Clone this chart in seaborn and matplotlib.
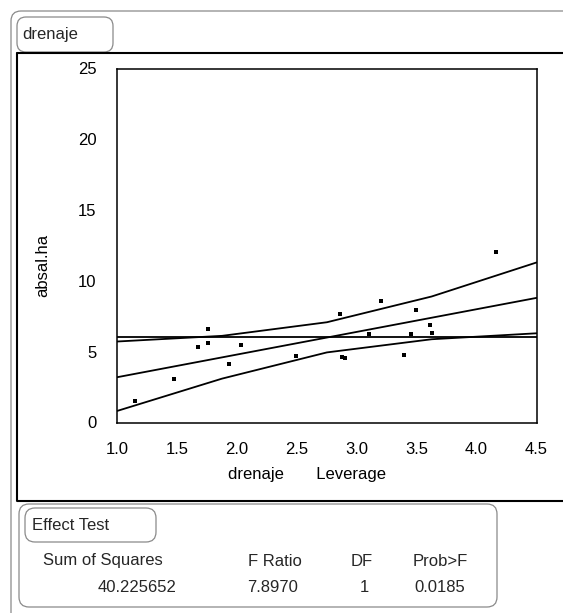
import matplotlib
matplotlib.use("Agg")
import matplotlib.pyplot as plt
from matplotlib.patches import FancyBboxPatch
import seaborn as sns
import pandas as pd

# ---------------- data ----------------
drenaje = [1.15, 1.47, 1.67, 1.76, 1.76, 1.93, 2.03, 2.49, 2.86, 2.88, 2.90,
           3.10, 3.20, 3.39, 3.45, 3.49, 3.61, 3.63, 4.16]
absal_ha = [1.52, 3.08, 5.32, 6.60, 5.61, 4.14, 5.46, 4.67, 7.66, 4.66, 4.54,
            6.22, 8.60, 4.80, 6.22, 7.94, 6.88, 6.34, 12.02]

curve_x = [1.0, 1.875, 2.75, 3.625, 4.5]
fit_y = [3.2, 4.6, 6.0, 7.4, 8.8]
upper_y = [5.72, 6.12, 7.08, 8.9, 11.3]
lower_y = [0.82, 3.1, 4.95, 5.88, 6.3]
mean_x = [1.0, 4.5]
mean_y = [6.07, 6.07]

x_ticks = [1.0, 1.5, 2.0, 2.5, 3.0, 3.5, 4.0, 4.5]
x_tick_labels = ["1.0", "1.5", "2.0", "2.5", "3.0", "3.5", "4.0", "4.5"]
y_ticks = [0, 5, 10, 15, 20, 25]
y_tick_labels = ["0", "5", "10", "15", "20", "25"]

panel_title = "drenaje"
x_label_parts = ["drenaje", "Leverage"]
y_label = "absal.ha"
effect_title = "Effect Test"
table_headers = ["Sum of Squares", "F Ratio", "DF", "Prob>F"]
table_values = ["40.225652", "7.8970", "1", "0.0185"]

# ---------------- styling ----------------
sns.set_theme(style="white")
plt.rcParams["font.family"] = ["Liberation Sans", "DejaVu Sans"]
FS = 12

W, H = 563, 613
fig = plt.figure(figsize=(W / 100, H / 100), dpi=100)
fig.patch.set_facecolor("white")


def fx(x):
    return x / W


def fy(y):
    return 1 - y / H


def rbox(x0, y0, x1, y1, r, color, lw):
    # pixel coordinates (top-left origin) -> inches
    p = FancyBboxPatch((x0 / 100, (H - y1) / 100), (x1 - x0) / 100, (y1 - y0) / 100,
                       boxstyle=f"round,pad=0,rounding_size={r / 100}",
                       transform=fig.dpi_scale_trans, facecolor="none",
                       edgecolor=color, linewidth=lw, zorder=0)
    fig.add_artist(p)


# outer frame and boxes
rbox(11, 11, 640, 700, 10, "#8a8a8a", 0.9)
rbox(17, 17, 113, 52, 9, "#8a8a8a", 0.9)
rbox(17, 53, 640, 501, 0.01, "black", 1.5)
rbox(19, 504, 497, 607, 10, "#8a8a8a", 0.9)
rbox(25, 508, 156, 542, 10, "#8a8a8a", 0.9)

fig.text(fx(22), fy(35), panel_title, fontsize=FS, va="center", ha="left")
fig.text(fx(32), fy(525), effect_title, fontsize=FS, va="center", ha="left")

# table
fig.text(fx(43), fy(561), table_headers[0], fontsize=FS, va="center", ha="left")
fig.text(fx(275), fy(561), table_headers[1], fontsize=FS, va="center", ha="center")
fig.text(fx(362), fy(561), table_headers[2], fontsize=FS, va="center", ha="center")
fig.text(fx(440), fy(561), table_headers[3], fontsize=FS, va="center", ha="center")
fig.text(fx(176), fy(587), table_values[0], fontsize=FS, va="center", ha="right")
fig.text(fx(273), fy(587), table_values[1], fontsize=FS, va="center", ha="center")
fig.text(fx(364), fy(587), table_values[2], fontsize=FS, va="center", ha="center")
fig.text(fx(440), fy(587), table_values[3], fontsize=FS, va="center", ha="center")

# ---------------- the leverage plot ----------------
ax_l, ax_r, ax_t, ax_b = 117.3, 536.5, 68.5, 422.5
ax = fig.add_axes([fx(ax_l), fy(ax_b), (ax_r - ax_l) / W, (ax_b - ax_t) / H])
ax.set_facecolor("white")

pts = pd.DataFrame({"drenaje": drenaje, "absal.ha": absal_ha})
curves = pd.DataFrame({"x": curve_x, "fit": fit_y, "upper": upper_y, "lower": lower_y})
means = pd.DataFrame({"x": mean_x, "y": mean_y})

line_kw = dict(color="black", linewidth=1.3, ax=ax)
sns.lineplot(data=means, x="x", y="y", **line_kw)
sns.lineplot(data=curves, x="x", y="fit", **line_kw)
sns.lineplot(data=curves, x="x", y="upper", **line_kw)
sns.lineplot(data=curves, x="x", y="lower", **line_kw)
sns.scatterplot(data=pts, x="drenaje", y="absal.ha", marker="s", s=6,
                color="black", linewidth=0, ax=ax, zorder=5)

ax.set_xlim(1.0, 4.5)
ax.set_ylim(0, 25)
ax.set_xticks(x_ticks)
ax.set_xticklabels(x_tick_labels)
ax.set_yticks(y_ticks)
ax.set_yticklabels(y_tick_labels)
ax.tick_params(axis="both", direction="out", length=9, width=1.1, color="black",
               labelsize=FS, labelcolor="black", pad=5)
ax.tick_params(axis="y", pad=6)
for s in ax.spines.values():
    s.set_visible(True)
    s.set_color("black")
    s.set_linewidth(1.1)

ax.set_xlabel((" " * 7).join(x_label_parts), fontsize=FS, color="black")
ax.xaxis.set_label_coords((307.5 - ax_l) / (ax_r - ax_l), (ax_b - 474) / (ax_b - ax_t))
ax.xaxis.label.set_verticalalignment("center")
ax.set_ylabel(y_label, fontsize=FS, color="black")
ax.yaxis.set_label_coords((43 - ax_l) / (ax_r - ax_l), (ax_b - 265.5) / (ax_b - ax_t))
ax.yaxis.label.set_verticalalignment("center")

fig.savefig("out.png", dpi=100, facecolor="white")
